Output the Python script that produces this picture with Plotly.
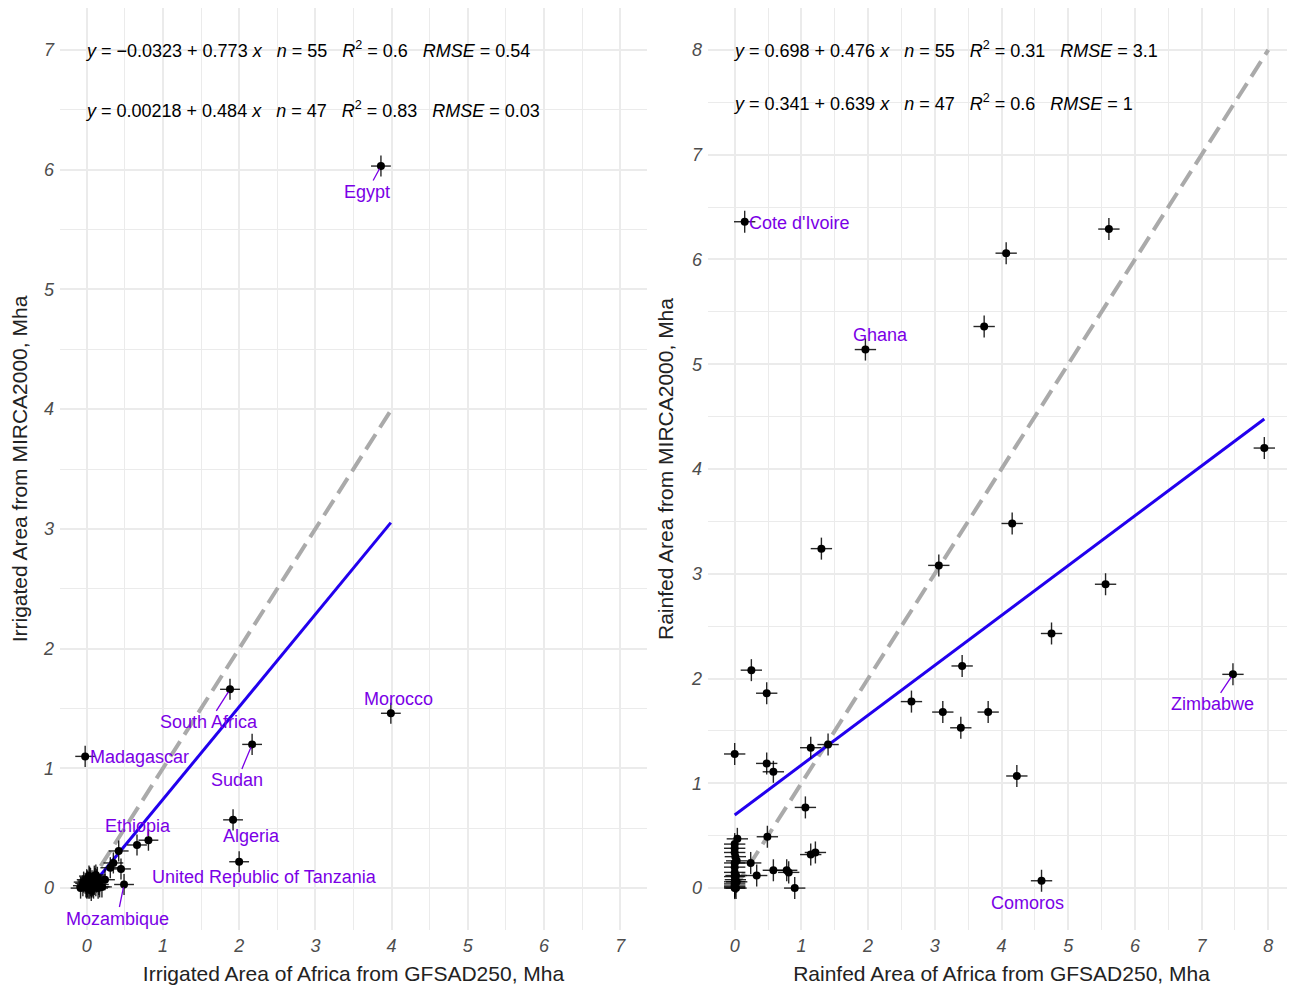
import plotly.graph_objects as go

# ---------------- data ----------------
# Left panel: irrigated area (GFSAD250 vs MIRCA2000), Mha
irr_x = [3.86, 3.99, 1.88, 2.17, 1.92, 2.00, -0.02, 0.81, 0.66, 0.42, 0.49,
         0.35, 0.31, 0.45, 0.24, 0.20,
         0.00, 0.02, 0.05, 0.08, 0.10, 0.12, 0.15, -0.05, -0.08, 0.03,
         0.06, 0.00, 0.10, 0.13, 0.01, 0.04, 0.07, -0.02, 0.09, 0.16,
         0.05, 0.11, 0.14, 0.00, 0.03, 0.07, 0.12, -0.04, 0.02, 0.09,
         0.06, 0.01, 0.17, 0.04, 0.08, -0.01, 0.13, 0.10, 0.05]
irr_y = [6.03, 1.46, 1.66, 1.20, 0.57, 0.22, 1.10, 0.40, 0.36, 0.31, 0.03,
         0.21, 0.17, 0.16, 0.07, 0.01,
         0.00, 0.05, 0.08, 0.03, 0.06, 0.02, 0.00, 0.02, 0.00, 0.10,
         -0.02, 0.03, 0.10, 0.05, 0.01, 0.00, 0.06, 0.04, 0.00, 0.03,
         0.02, 0.08, 0.09, 0.07, 0.04, 0.01, 0.11, 0.05, 0.00, 0.04,
         0.01, 0.06, 0.01, 0.09, 0.02, 0.01, 0.07, 0.03, 0.04]
irr_names = ["Egypt", "Morocco", "South Africa", "Sudan", "Algeria",
             "United Republic of Tanzania", "Madagascar", "Ethiopia", "", "",
             "Mozambique"] + [""] * 44

# Right panel: rainfed area (GFSAD250 vs MIRCA2000), Mha
rf_x = [0.15, 1.96, 4.07, 5.61, 3.74, 7.94, 4.16, 1.30, 3.06, 5.56, 4.75,
        0.25, 3.41, 7.47, 0.48, 2.65, 3.12, 3.80, 3.39, 0.00, 0.48, 0.58,
        1.14, 1.40, 4.23, 1.06, 4.60, 0.49, 0.04, 0.00, 0.00, 0.03, 0.24,
        0.00, 0.33, 0.58, 0.78, 0.81, 0.00, 0.03, 0.00, 0.00, 0.90, 1.14,
        1.21, 0.00, 0.00, 0.01, 0.00, 0.02, 0.00, 0.01, 0.00, 0.02, 0.00]
rf_y = [6.36, 5.14, 6.06, 6.29, 5.36, 4.20, 3.48, 3.24, 3.08, 2.90, 2.43,
        2.08, 2.12, 2.04, 1.86, 1.78, 1.68, 1.68, 1.53, 1.28, 1.19, 1.11,
        1.34, 1.37, 1.07, 0.77, 0.07, 0.49, 0.47, 0.38, 0.34, 0.26, 0.24,
        0.20, 0.12, 0.17, 0.17, 0.15, 0.11, 0.06, 0.01, 0.00, 0.00, 0.32,
        0.34, 0.04, 0.02, 0.08, 0.15, 0.00, 0.06, 0.30, 0.42, 0.12, 0.24]
rf_names = ["Cote d'Ivoire", "Ghana", "", "", "", "", "", "", "", "", "",
            "", "", "Zimbabwe", "", "", "", "", "", "", "", "", "", "", "",
            "", "Comoros"] + [""] * 28

# regression fits (as reported on the chart)
irr_fit_all = (-0.0323, 0.773)
rf_fit_all = (0.698, 0.476)

SP = "&nbsp;&nbsp;&nbsp;"
irr_eq = ["<i>y</i> = \u22120.0323 + 0.773 <i>x</i>" + SP + "<i>n</i> = 55" + SP + "<i>R</i><sup>2</sup> = 0.6" + SP + "<i>RMSE</i> = 0.54",
          "<i>y</i> = 0.00218 + 0.484 <i>x</i>" + SP + "<i>n</i> = 47" + SP + "<i>R</i><sup>2</sup> = 0.83" + SP + "<i>RMSE</i> = 0.03"]
rf_eq = ["<i>y</i> = 0.698 + 0.476 <i>x</i>" + SP + "<i>n</i> = 55" + SP + "<i>R</i><sup>2</sup> = 0.31" + SP + "<i>RMSE</i> = 3.1",
         "<i>y</i> = 0.341 + 0.639 <i>x</i>" + SP + "<i>n</i> = 47" + SP + "<i>R</i><sup>2</sup> = 0.6" + SP + "<i>RMSE</i> = 1"]

# ---------------- styling ----------------
FONT = "Liberation Sans, Arial, sans-serif"
LABEL_COLOR = "#7a00e6"
BLUE = "#2200ee"
GRID = "#ebebeb"

# label offsets in pixels (text centre relative to point), and whether a segment is drawn
label_style = {
    "Egypt": (-14, 26, True),
    "Morocco": (8, -14, False),
    "South Africa": (-21, 33, True),
    "Sudan": (-15, 36, True),
    "Algeria": (18, 16, False),
    "United Republic of Tanzania": (25, 15, False),
    "Madagascar": (54, 1, False),
    "Ethiopia": (-10, -14, False),
    "Mozambique": (-7, 34, True),
    "Cote d'Ivoire": (55, 1, False),
    "Ghana": (15, -15, False),
    "Zimbabwe": (-20, 30, True),
    "Comoros": (-14, 22, False),
}

fig = go.Figure()

panels = [
    (irr_x, irr_y, irr_names, irr_fit_all, irr_eq, "x", "y", 7, 0.13, 0.088),
    (rf_x, rf_y, rf_names, rf_fit_all, rf_eq, "x2", "y2", 8, 0.16, 0.105),
]

annotations = []
for xs, ys, names, fit, eqs, xa, ya, lim, ex, ey in panels:
    x1 = max(xs)
    x1r = round(x1)
    # 1:1 line
    fig.add_trace(go.Scatter(x=[0, x1r], y=[0, x1r], mode="lines",
                             line=dict(color="#aaaaaa", width=4, dash="18px,8px"),
                             xaxis=xa, yaxis=ya, showlegend=False, hoverinfo="skip"))
    # fitted line
    xmin = max(min(xs), 0)
    fig.add_trace(go.Scatter(x=[xmin, x1], y=[fit[0] + fit[1] * xmin, fit[0] + fit[1] * x1],
                             mode="lines", line=dict(color=BLUE, width=3),
                             xaxis=xa, yaxis=ya, showlegend=False, hoverinfo="skip"))
    # points with error crosses
    fig.add_trace(go.Scatter(x=xs, y=ys, mode="markers",
                             marker=dict(color="black", size=8),
                             error_x=dict(type="constant", value=ex, width=0, thickness=1.4,
                                          color="rgba(0,0,0,0.85)"),
                             error_y=dict(type="constant", value=ey, width=0, thickness=1.4,
                                          color="rgba(0,0,0,0.85)"),
                             xaxis=xa, yaxis=ya, showlegend=False))
    # equations
    for i, eq in enumerate(eqs):
        annotations.append(dict(x=0, y=lim - 0.5 * i, xref=xa, yref=ya, text=eq,
                                showarrow=False, xanchor="left", yanchor="middle", xshift=-4,
                                font=dict(family=FONT, size=18, color="black")))
    # labels
    for xv, yv, nm in zip(xs, ys, names):
        if not nm:
            continue
        dx, dy, seg = label_style[nm]
        if seg:
            annotations.append(dict(x=xv, y=yv, xref=xa, yref=ya, text=nm,
                                    showarrow=True, arrowhead=0, arrowwidth=1.3,
                                    arrowcolor=LABEL_COLOR, ax=dx, ay=dy, standoff=3,
                                    font=dict(family=FONT, size=18, color=LABEL_COLOR)))
        else:
            annotations.append(dict(x=xv, y=yv, xref=xa, yref=ya, text=nm,
                                    showarrow=False, xshift=dx, yshift=-dy,
                                    font=dict(family=FONT, size=18, color=LABEL_COLOR)))

# page body has an 8px margin: figure starts at (8, 8) in the window
OFF = 8
W, H = 1295 - OFF, 989 - OFF
ydom = [1 - (930 - OFF) / H, 1.0]

def axis(dom, lim, title, anchor, standoff, lab_off):
    return dict(domain=dom, range=[-0.05 * lim, lim * 1.05], anchor=anchor,
                tickmode="array", tickvals=list(range(lim + 1)),
                ticktext=[str(v) for v in range(lim + 1)],
                showgrid=True, gridcolor=GRID, gridwidth=1.6,
                minor=dict(showgrid=True, gridcolor=GRID, gridwidth=0.8, dtick=0.5, tick0=0),
                zeroline=False, showline=False, ticks="", ticklabelstandoff=lab_off,
                tickfont=dict(family=FONT, size=18, color="#4d4d4d", style="italic"),
                title=dict(text=title, font=dict(family=FONT, size=21, color="#222222"),
                           standoff=standoff))

fig.update_layout(
    width=W, height=H,
    margin=dict(l=0, r=0, t=0, b=0),
    plot_bgcolor="white", paper_bgcolor="white",
    xaxis=axis([(60 - OFF) / W, (647 - OFF) / W], 7, "Irrigated Area of Africa from GFSAD250, Mha", "y", 11, 3),
    yaxis=axis(ydom, 7, "Irrigated Area from MIRCA2000, Mha", "x", 11, 5),
    xaxis2=axis([(708 - OFF) / W, 1.0], 8, "Rainfed Area of Africa from GFSAD250, Mha", "y2", 11, 3),
    yaxis2=axis(ydom, 8, "Rainfed Area from MIRCA2000, Mha", "x2", 11, 5),
    annotations=annotations,
)

fig.write_html("out.html")
